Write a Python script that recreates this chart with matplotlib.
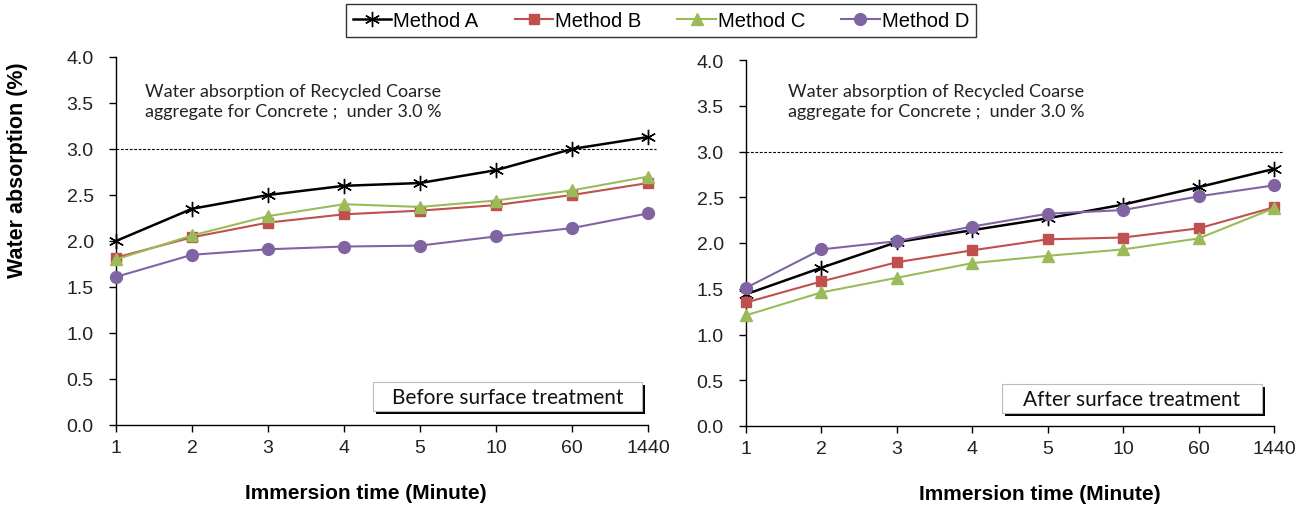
import numpy as np
import matplotlib
matplotlib.use("Agg")
import matplotlib.pyplot as plt
from matplotlib.patches import Rectangle
from matplotlib.lines import Line2D
import matplotlib.transforms as mtransforms

# categorias (tempo de imersão, min) e séries
tempos = ["1", "2", "3", "4", "5", "10", "60", "1440"]
metodos = ["Method A", "Method B", "Method C", "Method D"]

antes_a = [2.00, 2.35, 2.50, 2.60, 2.63, 2.77, 3.00, 3.13]
antes_b = [1.82, 2.04, 2.20, 2.29, 2.33, 2.39, 2.50, 2.63]
antes_c = [1.80, 2.06, 2.27, 2.40, 2.37, 2.44, 2.55, 2.70]
antes_d = [1.61, 1.85, 1.91, 1.94, 1.95, 2.05, 2.14, 2.30]

depois_a = [1.44, 1.73, 2.01, 2.14, 2.27, 2.42, 2.61, 2.81]
depois_b = [1.35, 1.58, 1.79, 1.92, 2.04, 2.06, 2.16, 2.39]
depois_c = [1.21, 1.46, 1.62, 1.78, 1.86, 1.93, 2.05, 2.38]
depois_d = [1.51, 1.93, 2.02, 2.18, 2.32, 2.36, 2.51, 2.63]

limite = 3.0
nota = "Water absorption of Recycled Coarse\naggregate for Concrete ;  under 3.0 %"
titulos = ["Before surface treatment", "After surface treatment"]

# estilos de cada método
estilos = [
    dict(color="black", marker=(6, 2, 0), ms=11, mew=1.0, lw=1.8),
    dict(color="#C0504D", marker="s", ms=7, mew=1.0, lw=1.5),
    dict(color="#9BBB59", marker="^", ms=8, mew=1.0, lw=1.5),
    dict(color="#8064A2", marker="o", ms=8.5, mew=1.0, lw=1.5),
]

plt.rcParams["font.family"] = ["Liberation Sans", "DejaVu Sans"]

W, H = 1307, 506
fig = plt.figure(figsize=(W / 100, H / 100), dpi=100)


def eixo(x0, x1, y_top, y_bot):
    return fig.add_axes([x0 / W, 1 - y_bot / H, (x1 - x0) / W, (y_bot - y_top) / H])


ax1 = eixo(116, 648, 58, 426)
ax2 = eixo(746, 1274, 61, 427)

# (eixo, séries, caixa do título, centro do título, posição da nota)
paineis = [
    (ax1, [antes_a, antes_b, antes_c, antes_d],
     (0.483, 0.038, 0.506, 0.079), (0.736, 0.077), (0.38, 3.52)),
    (ax2, [depois_a, depois_b, depois_c, depois_d],
     (0.485, 0.035, 0.492, 0.079), (0.731, 0.075), (0.56, 3.55)),
]

x = np.arange(len(tempos))
for i, (ax, series, caixa, pos_txt, pos_nota) in enumerate(paineis):
    for serie, st in zip(series, estilos):
        ax.plot(x, serie, color=st["color"], lw=st["lw"], marker=st["marker"],
                ms=st["ms"], mew=st["mew"], mec=st["color"], mfc=st["color"],
                clip_on=False, zorder=3)

    # linha de referência 3.0 %
    ax.plot([0, 7.1], [limite, limite], color="black", lw=0.8, ls=(0, (2.5, 1.5)),
            clip_on=False, zorder=2)

    ax.text(pos_nota[0], pos_nota[1], nota, fontsize=13, family=["Lato", "DejaVu Sans"],
            color="#222222", ha="left", va="center", linespacing=1.3)

    # caixa com sombra
    bx, by, bw, bh = caixa
    sombra = mtransforms.offset_copy(ax.transAxes, fig=fig, x=3, y=-3, units="dots")
    ax.add_patch(Rectangle((bx, by), bw, bh, transform=sombra, facecolor="black",
                           edgecolor="none", zorder=4))
    ax.add_patch(Rectangle((bx, by), bw, bh, transform=ax.transAxes, facecolor="white",
                           edgecolor="#bbbbbb", lw=0.8, zorder=5))
    ax.text(pos_txt[0], pos_txt[1], titulos[i], transform=ax.transAxes, fontsize=15,
            family=["Lato", "DejaVu Sans"], ha="center", va="center", color="#111111", zorder=6)

    ax.set_xlim(0, 7)
    ax.set_ylim(0, 4.0)
    ax.set_xticks(x)
    ax.set_xticklabels(tempos)
    ax.set_yticks(np.arange(0, 4.01, 0.5))
    ax.set_yticklabels([f"{v:.1f}" for v in np.arange(0, 4.01, 0.5)])
    ax.tick_params(axis="both", direction="out", length=5, width=1, labelsize=14,
                   color="black", labelcolor="#222222")
    ax.tick_params(axis="x", pad=5)
    ax.tick_params(axis="y", pad=11)
    ax.spines["top"].set_visible(False)
    ax.spines["right"].set_visible(False)
    for s in ("left", "bottom"):
        ax.spines[s].set_linewidth(1.0)

fig.text(366 / W, 1 - 494 / H, "Immersion time (Minute)", fontsize=15, fontweight="bold",
         ha="center", va="center")
fig.text(1040 / W, 1 - 495 / H, "Immersion time (Minute)", fontsize=15, fontweight="bold",
         ha="center", va="center")
fig.text(18 / W, 1 - 170 / H, "Water absorption (%)", fontsize=15.5, fontweight="bold",
         rotation=90, ha="center", va="center")

handles = [Line2D([], [], color=st["color"], lw=st["lw"], marker=st["marker"], ms=st["ms"],
                  mew=st["mew"], mec=st["color"], mfc=st["color"]) for st in estilos]
leg = fig.legend(handles, metodos, loc="upper center", bbox_to_anchor=(661 / W, 1 - 5 / H),
                 ncol=4, fontsize=14.5, frameon=True, fancybox=False, handlelength=1.9,
                 handletextpad=0.1, columnspacing=1.8, borderpad=0.35, borderaxespad=0)
leg.get_frame().set_edgecolor("black")
leg.get_frame().set_linewidth(1.0)

fig.savefig("out.png", dpi=100)
